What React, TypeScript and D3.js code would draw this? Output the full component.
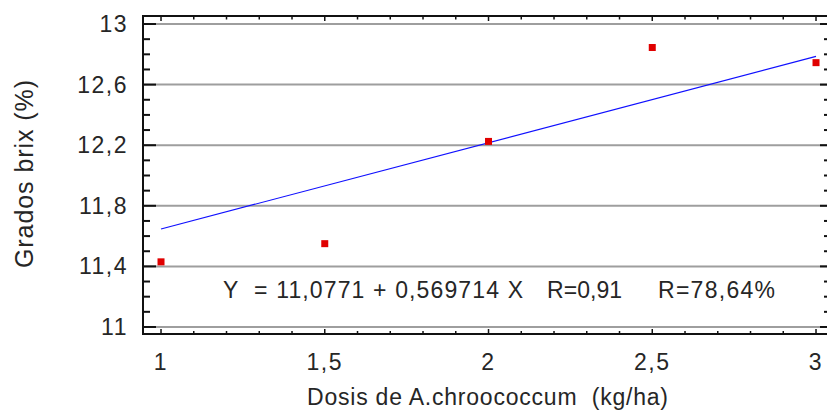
import React from "react";
import * as d3 from "d3";

// Dose of A. chroococcum (kg/ha) and measured Brix (%)
const doses = [1, 1.5, 2, 2.5, 3];
const brix = [11.43, 11.55, 12.225, 12.845, 12.745];

// Linear fit reported on the chart
const intercept = 11.0771;
const slope = 0.569714;
const equationText = "Y  = 11,0771 + 0,569714 X";
const rText = "R=0,91";
const r2Text = "R=78,64%";

const yTicks = [11, 11.4, 11.8, 12.2, 12.6, 13];
const yTickLabels = ["11", "11,4", "11,8", "12,2", "12,6", "13"];
const xTicks = [1, 1.5, 2, 2.5, 3];
const xTickLabels = ["1", "1,5", "2", "2,5", "3"];

const W = 827;
const H = 410;
const left = 143;
const right = 828;
const top = 16;
const bottom = 335;

const FONT = "'Liberation Sans', Arial, sans-serif";
const TEXT = "#262626";
const PRE: React.CSSProperties = { whiteSpace: "pre" };

export default function App() {
  const x = d3.scaleLinear().domain([0.945, 3.0366]).range([left, right]);
  const y = d3.scaleLinear().domain([10.947, 13.053]).range([bottom, top]);

  const xMinor = d3.range(10, 31).map((v) => v / 10);
  const yMinor = d3.range(110, 131).map((v) => v / 10);
  const isMajorX = (v: number) => Math.abs(v * 2 - Math.round(v * 2)) < 1e-6;
  const isMajorY = (v: number) => yTicks.some((t) => Math.abs(t - v) < 1e-6);

  const fitLine = d3
    .line<number>()
    .x((d) => x(d))
    .y((d) => y(intercept + slope * d));

  return (
    <svg
      width={W}
      height={H}
      style={{ position: "absolute", left: 0, top: 0, background: "#fff" }}
    >
      {/* horizontal grid lines */}
      {yTicks.map((t) => (
        <line
          key={"g" + t}
          x1={left}
          x2={right}
          y1={y(t)}
          y2={y(t)}
          stroke="#9e9e9e"
          strokeWidth={2}
        />
      ))}

      {/* left axis ticks */}
      {yMinor.map((v) => (
        <line
          key={"yl" + v}
          x1={left}
          x2={left + (isMajorY(v) ? 13 : 7)}
          y1={y(v)}
          y2={y(v)}
          stroke="#111"
          strokeWidth={2}
        />
      ))}
      {/* right axis ticks */}
      {yMinor.map((v) => (
        <line
          key={"yr" + v}
          x1={right}
          x2={right - (isMajorY(v) ? 8 : 4)}
          y1={y(v)}
          y2={y(v)}
          stroke="#111"
          strokeWidth={2}
        />
      ))}
      {/* bottom axis ticks */}
      {xMinor.map((v) => (
        <line
          key={"xb" + v}
          x1={x(v)}
          x2={x(v)}
          y1={bottom - 1}
          y2={bottom - 1 - (isMajorX(v) ? 5 : 3)}
          stroke="#111"
          strokeWidth={1.5}
        />
      ))}
      {/* top axis ticks */}
      {xMinor.map((v) => (
        <line
          key={"xt" + v}
          x1={x(v)}
          x2={x(v)}
          y1={top}
          y2={top + (isMajorX(v) ? 5 : 3.5)}
          stroke="#111"
          strokeWidth={1.5}
        />
      ))}

      {/* frame */}
      <line x1={left} x2={right} y1={top} y2={top} stroke="#111" strokeWidth={2} />
      <line x1={left} x2={right} y1={bottom - 1} y2={bottom - 1} stroke="#111" strokeWidth={2} />
      <line x1={left} x2={left} y1={top - 1} y2={bottom} stroke="#111" strokeWidth={2} />

      {/* fitted line */}
      <path
        d={fitLine([doses[0], doses[doses.length - 1]]) || ""}
        fill="none"
        stroke="#1010ff"
        strokeWidth={1.2}
      />

      {/* observed points */}
      {doses.map((d, i) => (
        <rect
          key={"p" + i}
          x={x(d) - 3.5}
          y={y(brix[i]) - 3.5}
          width={7}
          height={7}
          fill="#e00000"
        />
      ))}

      {/* y tick labels */}
      {yTicks.map((t, i) => (
        <text
          key={"yt" + t}
          x={128}
          y={y(t)}
          dy="0.35em"
          textAnchor="end"
          fontFamily={FONT}
          fontSize={23}
          letterSpacing={1.5}
          fill={TEXT}
        >
          {yTickLabels[i]}
        </text>
      ))}

      {/* x tick labels */}
      {xTicks.map((t, i) => (
        <text
          key={"xl" + t}
          x={x(t)}
          y={370}
          textAnchor="middle"
          fontFamily={FONT}
          fontSize={23}
          letterSpacing={1.5}
          fill={TEXT}
        >
          {xTickLabels[i]}
        </text>
      ))}

      {/* regression annotation */}
      <text
        x={223}
        y={298}
        fontFamily={FONT}
        fontSize={23}
        textLength={300}
        lengthAdjust="spacing"
        fill={TEXT}
        style={PRE}
      >
        {equationText}
      </text>
      <text
        x={547}
        y={298}
        fontFamily={FONT}
        fontSize={23}
        textLength={75}
        lengthAdjust="spacing"
        fill={TEXT}
      >
        {rText}
      </text>
      <text
        x={658}
        y={298}
        fontFamily={FONT}
        fontSize={23}
        textLength={117}
        lengthAdjust="spacing"
        fill={TEXT}
      >
        {r2Text}
      </text>

      {/* axis titles */}
      <text
        x={307}
        y={405}
        fontFamily={FONT}
        fontSize={23}
        textLength={361}
        lengthAdjust="spacing"
        fill={TEXT}
        style={PRE}
      >
        {"Dosis de A.chroococcum  (kg/ha)"}
      </text>
      <text
        transform="translate(33,268) rotate(-90)"
        fontFamily={FONT}
        fontSize={25}
        textLength={188}
        lengthAdjust="spacing"
        fill={TEXT}
      >
        Grados brix (%)
      </text>
    </svg>
  );
}
